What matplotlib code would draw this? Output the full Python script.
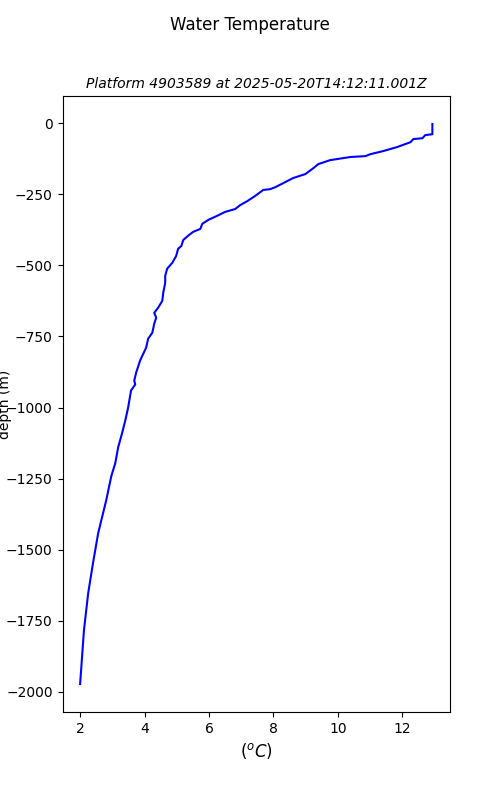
import matplotlib
matplotlib.use('Agg')
import numpy as np
import matplotlib.pyplot as plt

# profile
temp = [12.93, 12.93, 12.71, 12.62, 12.34, 12.25, 11.84, 11.41, 11.01, 10.85,
        10.39, 9.76, 9.39, 9.24, 8.99, 8.61, 8.30, 8.06, 7.90, 7.68,
        7.43, 7.19, 6.97, 6.81, 6.50, 6.25, 5.98, 5.79, 5.73, 5.51,
        5.35, 5.20, 5.14, 5.04, 4.98, 4.86, 4.70, 4.64, 4.64, 4.58,
        4.55, 4.42, 4.30, 4.36, 4.30, 4.24, 4.11, 4.05, 3.93, 3.86,
        3.74, 3.68, 3.71, 3.58, 3.49, 3.40, 3.30, 3.18, 3.09, 2.97,
        2.81, 2.56, 2.40, 2.25, 2.12, 2.06, 2.00]
depth = [-3, -39, -42, -53, -56, -67, -84, -98, -109, -116,
         -119, -130, -144, -158, -179, -193, -211, -225, -232, -235,
         -256, -274, -288, -302, -312, -326, -340, -354, -372, -382,
         -396, -411, -432, -442, -467, -491, -512, -537, -561, -596,
         -625, -649, -667, -684, -705, -737, -758, -789, -818, -835,
         -877, -905, -919, -940, -1000, -1046, -1091, -1140, -1196, -1240,
         -1326, -1442, -1547, -1653, -1782, -1877, -1972]

platform = '4903589'
timestamp = '2025-05-20T14:12:11.001Z'

fig, ax = plt.subplots(figsize=(5, 8), dpi=100)
fig.suptitle('Water Temperature')
ax.plot(temp, depth, 'b')
ax.set_title('Platform %s at %s' % (platform, timestamp), fontsize=10, style='italic')
ax.set_xlabel('$(^oC)$', fontsize=12)
ax.set_ylabel('depth (m)')
ax.yaxis.set_label_coords(-0.13, 0.5)

fig.savefig('out.png')
